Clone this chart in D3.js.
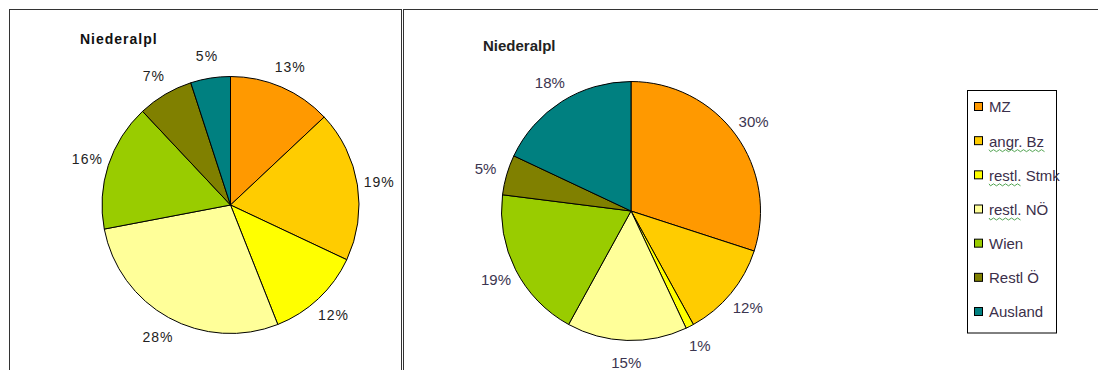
<!DOCTYPE html>
<html><head><meta charset="utf-8">
<script src="https://cdn.jsdelivr.net/npm/d3@7/dist/d3.min.js"></script>
<style>body{margin:0;background:#fff}svg{display:block}</style>
</head><body>
<svg id="c" width="1098" height="370"></svg>
<script>
const categories = ["MZ", "angr. Bz", "restl. Stmk", "restl. NÖ", "Wien", "Restl Ö", "Ausland"];
const leftValues = [13, 19, 12, 28, 16, 7, 5];
const rightValues = [30, 12, 1, 15, 19, 5, 18];
const colors = ["#FF9900", "#FFCC00", "#FFFF00", "#FFFF99", "#99CC00", "#808000", "#008080"];
const titles = ["Niederalpl", "Niederalpl"];
const squiggleChars = [0, 8, 6, 6, 0, 0, 0];

const svg = d3.select("#c");
const font = "'Liberation Sans', Arial, sans-serif";

// panel borders
svg.append("rect").attr("x", 9.5).attr("y", 9.5).attr("width", 392).attr("height", 420)
  .attr("fill", "none").attr("stroke", "#333").attr("stroke-width", 1);
svg.append("rect").attr("x", 403.5).attr("y", 9.5).attr("width", 800).attr("height", 420)
  .attr("fill", "none").attr("stroke", "#333").attr("stroke-width", 1);

const color = d3.scaleOrdinal().domain(categories).range(colors);
const pie = d3.pie().sort(null).value(d => d.v);

function drawPie(values, cx, cy, r, opts) {
  const data = pie(values.map((v, i) => ({ c: categories[i], v })));
  const g = svg.append("g").attr("transform", `translate(${cx},${cy})`);
  const arc = d3.arc().innerRadius(0).outerRadius(r);
  g.selectAll("path").data(data).join("path")
    .attr("d", arc).attr("fill", d => color(d.data.c))
    .attr("stroke", "#000").attr("stroke-width", 1).attr("stroke-linejoin", "round");
  const lr = r + 22;
  const la = d3.arc().innerRadius(lr).outerRadius(lr);
  g.selectAll("text").data(data).join("text")
    .attr("transform", d => `translate(${la.centroid(d)})`)
    .attr("text-anchor", "middle").attr("dy", "0.36em")
    .attr("font-family", font).attr("font-size", opts.fs)
    .attr("letter-spacing", opts.ls).attr("fill", opts.fill)
    .text(d => d.data.v + "%");
}

// titles
svg.append("text").attr("x", 80).attr("y", 44).attr("font-family", font)
  .attr("font-weight", "bold").attr("font-size", 14).attr("letter-spacing", 1)
  .attr("fill", "#111").text(titles[0]);
svg.append("text").attr("x", 483).attr("y", 50.5).attr("font-family", font)
  .attr("font-weight", "bold").attr("font-size", 15)
  .attr("fill", "#222").text(titles[1]);

drawPie(leftValues, 230.5, 205, 128.5, { fs: 14, ls: 1, fill: "#222" });
drawPie(rightValues, 631, 211, 129.5, { fs: 15, ls: 0, fill: "#3b3550" });

// legend
const lg = svg.append("g");
lg.append("rect").attr("x", 967.5).attr("y", 90.5).attr("width", 89).attr("height", 242.5)
  .attr("fill", "#fff").attr("stroke", "#000").attr("stroke-width", 1);
const ly = d3.scalePoint().domain(categories).range([107, 312]);
const items = lg.selectAll("g.it").data(categories).join("g").attr("class", "it")
  .attr("transform", d => `translate(0,${ly(d)})`);
items.append("rect").attr("x", 974.5).attr("y", -4.5).attr("width", 8).attr("height", 8)
  .attr("fill", d => color(d)).attr("stroke", "#000").attr("stroke-width", 1);
items.append("text").attr("x", 989).attr("y", 0).attr("dy", "0.36em")
  .attr("font-family", font).attr("font-size", 15).attr("fill", "#3b2f4a")
  .text(d => d)
  .each(function (d, i) {
    const n = squiggleChars[i];
    if (!n) return;
    const w = this.getSubStringLength(0, n);
    let p = `M989,8.5`;
    for (let x = 0; x < w; x += 3) p += ` L${989 + x + 1.5},${x / 3 % 2 ? 8.5 : 10.5}`;
    d3.select(this.parentNode).append("path").attr("d", p)
      .attr("fill", "none").attr("stroke", "#3f9a3f").attr("stroke-width", 0.9);
  });
</script>
</body></html>
